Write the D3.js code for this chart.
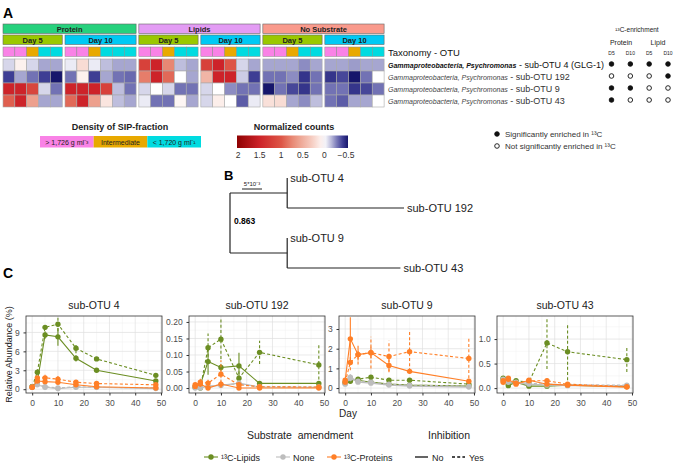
<!DOCTYPE html>
<html>
<head>
<meta charset="utf-8">
<script src="https://cdn.jsdelivr.net/npm/d3@7/dist/d3.min.js"></script>
<style>
  body { margin: 0; background: #fff; }
  text { font-family: "Liberation Sans", Arial, sans-serif; }
</style>
</head>
<body>
<svg id="chart"></svg>
<script>
// ---------------- panel A data ----------------
const otus = ['sub-OTU 4', 'sub-OTU 192', 'sub-OTU 9', 'sub-OTU 43'];
const blockSubstrate = ['Protein', 'Protein', 'Lipids', 'Lipids', 'No Substrate', 'No Substrate'];
const blockDay = ['Day 5', 'Day 10', 'Day 5', 'Day 10', 'Day 5', 'Day 10'];
const blockFractions = [
  ['heavy', 'heavy', 'mid', 'light', 'light'],
  ['heavy', 'heavy', 'mid', 'light', 'light', 'light'],
  ['heavy', 'heavy', 'mid', 'light', 'light'],
  ['heavy', 'heavy', 'mid', 'light', 'light'],
  ['heavy', 'heavy', 'mid', 'light', 'light'],
  ['heavy', 'heavy', 'mid', 'light', 'light']
];
// rows follow otus
const countsProteinD5 = [
  [-0.1, 0.08, -0.1, -0.2, -0.2],
  [-0.42, -0.2, -0.3, -0.42, -0.55],
  [1.5, 1.5, 1.15, -0.1, -0.3],
  [0.95, 1.5, 0.6, -0.2, -0.2]
];
const countsProteinD10 = [
  [-0.05, 0.2, -0.05, -0.15, -0.2, -0.2],
  [-0.3, 0.08, -0.42, -0.2, -0.3, -0.32],
  [1.5, 1.5, 1.5, 1.2, -0.15, -0.3],
  [0.9, 1.5, 0.6, 0.15, -0.15, -0.2]
];
const countsLipidsD5 = [
  [1.2, 1.5, 0.75, -0.15, -0.2],
  [0.8, 1.5, 0.9, 0.0, -0.2],
  [-0.1, 0.0, -0.1, -0.3, -0.3],
  [-0.05, -0.3, -0.3, 0.05, -0.2]
];
const countsLipidsD10 = [
  [1.2, 1.5, 1.0, -0.1, -0.2],
  [0.45, 1.5, 1.5, -0.12, -0.42],
  [-0.1, 0.0, -0.25, -0.3, -0.3],
  [-0.1, 0.1, 0.0, -0.35, -0.05]
];
const countsNoneD5 = [
  [-0.2, -0.2, -0.2, -0.25, -0.2],
  [-0.3, -0.3, -0.25, -0.45, -0.3],
  [-0.58, -0.3, -0.4, -0.45, -0.3],
  [0.18, 0.2, -0.2, -0.25, -0.15]
];
const countsNoneD10 = [
  [-0.2, -0.2, -0.22, -0.2, -0.2],
  [-0.45, -0.4, -0.55, -0.3, 0.0],
  [-0.3, -0.3, -0.45, -0.4, -0.3],
  [-0.3, -0.35, -0.2, -0.2, 0.0]
];
const blockCounts = [countsProteinD5, countsProteinD10, countsLipidsD5, countsLipidsD10, countsNoneD5, countsNoneD10];

const taxonomy = 'Gammaproteobacteria, Psychromonas';
const otuSuffix = [' - sub-OTU 4 (GLG-1)', ' - sub-OTU 192', ' - sub-OTU 9', ' - sub-OTU 43'];
const enrichProteinD5 = [1, 0, 1, 1];
const enrichProteinD10 = [1, 0, 1, 0];
const enrichLipidD5 = [1, 0, 0, 0];
const enrichLipidD10 = [1, 1, 0, 0];
const enrichCols = ['D5', 'D10', 'D5', 'D10'];
const densityLabels = ['> 1,726 g ml⁻³', 'Intermediate', '< 1,720 g ml⁻¹'];
const countTicks = [2, 1.5, 1, 0.5, 0, -0.5];

// ---------------- panel B data ----------------
const treeLeaves = ['sub-OTU 4', 'sub-OTU 192', 'sub-OTU 9', 'sub-OTU 43'];
const cladeStem = [0.0143, 0.0143];
const leafBranch = [0, 0.0292, 0, 0.0283];
const bootstrapValue = '0.863';
const scaleBarLength = 0.005;

// ---------------- panel C data ----------------
const sampleDays = [0, 2, 5, 10, 17, 25, 48];
const substrates = ['¹³C-Lipids', 'None', '¹³C-Proteins'];
const inhibition = ['No', 'Yes'];

const otu4LipNo = [0.4, 1.2, 8.6, 8.3, 4.9, 3.0, 1.3];
const otu4LipNoSd = [0.1, 0.3, 0.6, 1.4, 0.5, 0.2, 0.2];
const otu4LipYes = [0.4, 2.7, 9.8, 10.3, 6.5, 4.8, 2.2];
const otu4LipYesSd = [0.1, 0.4, 0.4, 1.1, 0.8, 0.3, 0.3];
const otu4NoneNo = [0.3, 0.7, 0.3, 0.1, 0.3, 0.3, 0.1];
const otu4NoneNoSd = [0.1, 0.1, 0.1, 0.05, 0.1, 0.1, 0.05];
const otu4NoneYes = [0.3, 0.8, 0.4, 0.2, 0.4, 0.3, 0.2];
const otu4NoneYesSd = [0.1, 0.1, 0.1, 0.05, 0.1, 0.1, 0.05];
const otu4ProtNo = [0.3, 1.3, 1.2, 1.1, 0.7, 0.4, 0.2];
const otu4ProtNoSd = [0.1, 0.3, 0.3, 0.3, 0.2, 0.1, 0.1];
const otu4ProtYes = [0.3, 1.8, 1.8, 1.6, 1.1, 0.9, 0.7];
const otu4ProtYesSd = [0.1, 0.4, 0.5, 0.5, 0.4, 0.3, 0.3];

const otu192LipNo = [0.002, 0.01, 0.08, 0.062, 0.067, 0.014, 0.014];
const otu192LipNoSd = [0.003, 0.005, 0.04, 0.01, 0.04, 0.003, 0.003];
const otu192LipYes = [0.005, 0.0, 0.122, 0.148, 0.03, 0.108, 0.07];
const otu192LipYesSd = [0.005, 0.005, 0.043, 0.06, 0.02, 0.035, 0.06];
const otu192NoneNo = [0.0, 0.0, 0.005, 0.008, 0.015, 0.003, 0.002];
const otu192NoneNoSd = [0.002, 0.002, 0.003, 0.004, 0.005, 0.002, 0.002];
const otu192NoneYes = [0.005, 0.003, 0.005, 0.01, 0.012, 0.004, 0.003];
const otu192NoneYesSd = [0.002, 0.002, 0.003, 0.004, 0.005, 0.002, 0.002];
const otu192ProtNo = [0.005, 0.012, 0.0, 0.012, 0.0, 0.0, 0.0];
const otu192ProtNoSd = [0.005, 0.008, 0.002, 0.008, 0.002, 0.001, 0.001];
const otu192ProtYes = [0.01, 0.018, 0.015, 0.042, 0.01, 0.004, 0.003];
const otu192ProtYesSd = [0.005, 0.01, 0.01, 0.042, 0.008, 0.003, 0.002];

const otu9LipNo = [0.25, 0.45, 0.4, 0.3, 0.2, 0.15, 0.1];
const otu9LipNoSd = [0.05, 0.1, 0.08, 0.06, 0.05, 0.05, 0.04];
const otu9LipYes = [0.3, 0.35, 0.45, 0.55, 0.4, 0.4, 0.2];
const otu9LipYesSd = [0.05, 0.08, 0.08, 0.1, 0.08, 0.08, 0.06];
const otu9NoneNo = [0.2, 0.5, 0.3, 0.25, 0.15, 0.1, 0.05];
const otu9NoneNoSd = [0.05, 0.15, 0.05, 0.05, 0.05, 0.04, 0.03];
const otu9NoneYes = [0.25, 0.55, 0.35, 0.3, 0.2, 0.15, 0.1];
const otu9NoneYesSd = [0.05, 0.15, 0.05, 0.05, 0.05, 0.04, 0.03];
const otu9ProtNo = [0.4, 2.5, 1.7, 1.8, 1.15, 0.85, 0.35];
const otu9ProtNoSd = [0.1, 1.1, 0.3, 0.3, 0.3, 0.1, 0.1];
const otu9ProtYes = [0.3, 1.3, 1.7, 1.8, 1.6, 1.85, 1.5];
const otu9ProtYesSd = [0.1, 0.4, 0.5, 0.8, 0.8, 1.0, 1.0];

const otu43LipNo = [0.18, 0.05, 0.12, 0.04, 0.04, 0.06, 0.03];
const otu43LipNoSd = [0.03, 0.02, 0.03, 0.02, 0.02, 0.02, 0.01];
const otu43LipYes = [0.2, 0.08, 0.15, 0.12, 0.92, 0.74, 0.58];
const otu43LipYesSd = [0.03, 0.02, 0.03, 0.05, 0.53, 0.58, 0.25];
const otu43NoneNo = [0.15, 0.12, 0.1, 0.08, 0.06, 0.05, 0.05];
const otu43NoneNoSd = [0.03, 0.02, 0.02, 0.02, 0.02, 0.01, 0.01];
const otu43NoneYes = [0.18, 0.14, 0.12, 0.1, 0.08, 0.07, 0.06];
const otu43NoneYesSd = [0.03, 0.02, 0.02, 0.02, 0.02, 0.01, 0.01];
const otu43ProtNo = [0.12, 0.18, 0.08, 0.16, 0.08, 0.06, 0.02];
const otu43ProtNoSd = [0.03, 0.04, 0.02, 0.03, 0.02, 0.02, 0.01];
const otu43ProtYes = [0.15, 0.2, 0.1, 0.15, 0.15, 0.08, 0.03];
const otu43ProtYesSd = [0.03, 0.04, 0.02, 0.03, 0.03, 0.02, 0.01];

const facetTitles = ['sub-OTU 4', 'sub-OTU 192', 'sub-OTU 9', 'sub-OTU 43'];
const yDomains = [[-0.6, 11.6], [-0.015, 0.218], [-0.25, 3.66], [-0.1, 1.47]];
const yTicks = [[0, 3, 6, 9], [0, 0.05, 0.1, 0.15, 0.2], [0, 1, 2, 3], [0, 0.5, 1]];
const yMinor = [[1.5, 4.5, 7.5, 10.5], [0.025, 0.075, 0.125, 0.175], [0.5, 1.5, 2.5, 3.5], [0.25, 0.75, 1.25]];
const yFormats = ['d', '.2f', 'd', '.1f'];
const xTicks = [0, 10, 20, 30, 40, 50];
const xMinor = [5, 15, 25, 35, 45];

// ---------------- styles ----------------
const subColor = {Protein: '#27d17d', Lipids: '#e39cf4', 'No Substrate': '#f99a8c'};
const dayColor = {'Day 5': '#9ac800', 'Day 10': '#00c9f4'};
const fracColor = {heavy: '#f982e6', mid: '#e8a900', light: '#00dbe0'};
const lineColor = ['#6b8e23', '#bdbdbd', '#ff7f27'];
const dash = {No: null, Yes: '3,2.2'};

const svg = d3.select('#chart').attr('width', 674).attr('height', 463);

// =============== A ===============
svg.append('text').text('A').attr('x', 3).attr('y', 18)
  .attr('font-size', 14).attr('font-weight', 'bold');

const countColor = d3.scaleLinear()
  .domain([-0.55, -0.42, -0.3, -0.2, -0.1, 0, 0.3, 0.7, 1.0, 1.5, 2.05])
  .range(['#16166b', '#3e3e94', '#7272b4', '#a6a6d0', '#d6d6ea', '#ffffff', '#f5cbbf', '#ea917c', '#dd5546', '#cd2329', '#8b0000'])
  .clamp(true);

const colW = 11.85, blockGap = 2.75;
const rowY = d3.scaleBand().domain(otus).range([59, 107]);
let cursor = 3;
const blocks = blockSubstrate.map((s, i) => {
  const n = blockFractions[i].length;
  const b = {substrate: s, day: blockDay[i], fractions: blockFractions[i], counts: blockCounts[i], x0: cursor, x1: cursor + n * colW};
  b.x = d3.scaleBand().domain(d3.range(n)).range([b.x0, b.x1]);
  cursor = b.x1 + blockGap;
  return b;
});

const groups = d3.groups(blocks, b => b.substrate).map(([s, bs]) => ({s, x0: bs[0].x0, x1: bs[bs.length - 1].x1}));
const gA = svg.append('g');
gA.selectAll('rect.grp').data(groups).enter().append('rect')
  .attr('x', d => d.x0).attr('y', 24).attr('width', d => d.x1 - d.x0).attr('height', 9.5)
  .attr('fill', d => subColor[d.s]).attr('stroke', '#666').attr('stroke-width', 0.6);
gA.selectAll('text.grp').data(groups).enter().append('text')
  .attr('x', d => (d.x0 + d.x1) / 2).attr('y', 31.8).attr('text-anchor', 'middle')
  .attr('font-family', 'DejaVu Sans').attr('font-weight', 'bold').attr('font-size', 7.5).attr('fill', '#222')
  .text(d => d.s);

gA.selectAll('rect.day').data(blocks).enter().append('rect')
  .attr('x', d => d.x0).attr('y', 35).attr('width', d => d.x1 - d.x0).attr('height', 9.5)
  .attr('fill', d => dayColor[d.day]).attr('stroke', '#666').attr('stroke-width', 0.6);
gA.selectAll('text.day').data(blocks).enter().append('text')
  .attr('x', d => (d.x0 + d.x1) / 2).attr('y', 42.8).attr('text-anchor', 'middle')
  .attr('font-family', 'DejaVu Sans').attr('font-weight', 'bold').attr('font-size', 7.5).attr('fill', '#222')
  .text(d => d.day);

blocks.forEach(b => {
  const g = gA.append('g');
  g.selectAll('rect.frac').data(b.fractions).enter().append('rect')
    .attr('x', (d, i) => b.x(i)).attr('y', 47).attr('width', b.x.bandwidth()).attr('height', 9.5)
    .attr('fill', d => fracColor[d]).attr('stroke', '#8a8a8a').attr('stroke-width', 0.5);
  const cells = [];
  b.counts.forEach((row, r) => row.forEach((v, c) => cells.push({otu: otus[r], c, v})));
  g.selectAll('rect.cell').data(cells).enter().append('rect')
    .attr('x', d => b.x(d.c)).attr('y', d => rowY(d.otu))
    .attr('width', b.x.bandwidth()).attr('height', rowY.bandwidth())
    .attr('fill', d => countColor(d.v)).attr('stroke', '#a8a8a8').attr('stroke-width', 0.6);
});

// taxonomy labels
gA.append('text').text('Taxonomy - OTU').attr('x', 388).attr('y', 55.5).attr('font-size', 9.5).attr('fill', '#111');
otus.forEach((o, i) => {
  const t = gA.append('text').attr('x', 388).attr('y', rowY(o) + rowY.bandwidth() / 2 + 2.5);
  t.append('tspan').text(taxonomy).attr('font-style', 'italic').attr('font-size', 7)
    .attr('font-weight', i === 0 ? 'bold' : 'normal').attr('fill', i === 0 ? '#111' : '#444');
  t.append('tspan').text(otuSuffix[i]).attr('font-size', 9).attr('fill', i === 0 ? '#111' : '#333');
});

// enrichment table
const enrichX = d3.scalePoint().domain(d3.range(4)).range([611.5, 668]);
const enrichData = [enrichProteinD5, enrichProteinD10, enrichLipidD5, enrichLipidD10];
gA.append('text').text('¹³C-enrichment').attr('x', 637).attr('y', 32).attr('text-anchor', 'middle')
  .attr('font-family', 'Open Sans').attr('font-size', 6.5).attr('fill', '#222');
gA.append('text').text('Protein').attr('x', 621).attr('y', 45).attr('text-anchor', 'middle')
  .attr('font-family', 'Open Sans').attr('font-size', 7).attr('fill', '#222');
gA.append('text').text('Lipid').attr('x', 658).attr('y', 45).attr('text-anchor', 'middle')
  .attr('font-family', 'Open Sans').attr('font-size', 7).attr('fill', '#222');
gA.selectAll('text.ecol').data(enrichCols).enter().append('text')
  .attr('x', (d, i) => enrichX(i)).attr('y', 54.5).attr('text-anchor', 'middle')
  .attr('font-family', 'DejaVu Sans').attr('font-size', 5).attr('fill', '#222').text(d => d);
enrichData.forEach((col, ci) => {
  gA.selectAll(null).data(col).enter().append('circle')
    .attr('cx', enrichX(ci)).attr('cy', (d, r) => rowY(otus[r]) + rowY.bandwidth() / 2 - 1)
    .attr('r', 2.3).attr('fill', d => d ? '#111' : '#fff').attr('stroke', '#111').attr('stroke-width', 0.9);
});

// density legend
const densKeys = ['heavy', 'mid', 'light'];
const densX = d3.scaleBand().domain(densKeys).range([40, 201]);
gA.append('text').text('Density of SIP-fraction').attr('x', 120).attr('y', 130).attr('text-anchor', 'middle')
  .attr('font-weight', 'bold').attr('font-size', 9).attr('fill', '#222');
gA.selectAll('rect.dens').data(densKeys).enter().append('rect')
  .attr('x', d => densX(d)).attr('y', 136).attr('width', densX.bandwidth()).attr('height', 11.5)
  .attr('fill', d => fracColor[d]);
gA.selectAll('text.dens').data(densKeys).enter().append('text')
  .attr('x', d => densX(d) + densX.bandwidth() / 2).attr('y', 144.5).attr('text-anchor', 'middle')
  .attr('font-family', 'Liberation Sans Narrow').attr('font-size', 7).attr('fill', '#222')
  .text((d, i) => densityLabels[i]);

// normalized counts legend
const legX = d3.scaleLinear().domain([2, -0.5]).range([238, 346]);
const grad = svg.append('defs').append('linearGradient').attr('id', 'cgrad');
d3.range(0, 1.0001, 0.05).forEach(t => {
  const v = legX.invert(237 + t * 111);
  grad.append('stop').attr('offset', t).attr('stop-color', countColor(v));
});
gA.append('text').text('Normalized counts').attr('x', 294).attr('y', 130).attr('text-anchor', 'middle')
  .attr('font-weight', 'bold').attr('font-size', 9).attr('fill', '#222');
gA.append('rect').attr('x', 237).attr('y', 135.5).attr('width', 111).attr('height', 12.5).attr('fill', 'url(#cgrad)');
gA.selectAll('text.ct').data(countTicks).enter().append('text')
  .attr('x', d => legX(d)).attr('y', 157.5).attr('text-anchor', 'middle')
  .attr('font-family', 'Liberation Sans Narrow').attr('font-size', 8.5).attr('fill', '#333')
  .text(d => d3.format('')(d).replace('-', '−'));

// significance legend
const sigLabels = ['Significantly enriched in ¹³C', 'Not significantly enriched in ¹³C'];
gA.selectAll('circle.sig').data([1, 0]).enter().append('circle')
  .attr('cx', 497).attr('cy', (d, i) => 134 + i * 12).attr('r', 2.3)
  .attr('fill', d => d ? '#111' : '#fff').attr('stroke', '#111').attr('stroke-width', 0.9);
gA.selectAll('text.sig').data(sigLabels).enter().append('text')
  .attr('x', 505).attr('y', (d, i) => 137 + i * 12)
  .attr('font-family', 'Liberation Sans Narrow').attr('font-size', 8).attr('fill', '#333').text(d => d);

// =============== B ===============
const gB = svg.append('g');
gB.append('text').text('B').attr('x', 224).attr('y', 180).attr('font-size', 13).attr('font-weight', 'bold');
const treeX = d3.scaleLinear().domain([0, 0.005]).range([230, 250]);
const leafY = d3.scalePoint().domain(treeLeaves).range([178, 268]);
const treeLines = [];
const rootTop = [];
[[0, 1], [2, 3]].forEach((pair, k) => {
  const cx = treeX(cladeStem[k]);
  const ya = leafY(treeLeaves[pair[0]]), yb = leafY(treeLeaves[pair[1]]);
  const ym = (ya + yb) / 2;
  treeLines.push([treeX(0), ym, cx, ym]);
  treeLines.push([cx, ya, cx, yb]);
  pair.forEach(li => {
    const y = leafY(treeLeaves[li]);
    if (leafBranch[li] > 0) treeLines.push([cx, y, treeX(cladeStem[k] + leafBranch[li]), y]);
  });
  rootTop.push(ym);
});
treeLines.push([treeX(0), rootTop[0], treeX(0), rootTop[1]]);
gB.selectAll('line').data(treeLines).enter().append('line')
  .attr('x1', d => d[0]).attr('y1', d => d[1]).attr('x2', d => d[2]).attr('y2', d => d[3])
  .attr('stroke', '#222').attr('stroke-width', 1.2);
gB.selectAll('text.leaf').data(treeLeaves).enter().append('text')
  .attr('x', (d, i) => treeX(cladeStem[i < 2 ? 0 : 1] + leafBranch[i]) + 3)
  .attr('y', d => leafY(d) + 4).attr('font-family', 'Open Sans').attr('font-size', 11).attr('fill', '#222')
  .text(d => d);
gB.append('text').text(bootstrapValue).attr('x', 234).attr('y', 224).attr('font-weight', 'bold').attr('font-size', 8.5);
gB.append('line').attr('x1', 242).attr('x2', 242 + treeX(scaleBarLength) - treeX(0))
  .attr('y1', 189).attr('y2', 189).attr('stroke', '#222').attr('stroke-width', 1);
gB.append('text').text('5*10⁻³').attr('x', 252).attr('y', 186).attr('text-anchor', 'middle')
  .attr('font-size', 6).attr('fill', '#222');

// =============== C ===============
svg.append('text').text('C').attr('x', 3).attr('y', 278).attr('font-size', 14).attr('font-weight', 'bold');

const seriesOf = [
  [otu4LipNo, otu4LipNoSd, otu4LipYes, otu4LipYesSd, otu4NoneNo, otu4NoneNoSd, otu4NoneYes, otu4NoneYesSd, otu4ProtNo, otu4ProtNoSd, otu4ProtYes, otu4ProtYesSd],
  [otu192LipNo, otu192LipNoSd, otu192LipYes, otu192LipYesSd, otu192NoneNo, otu192NoneNoSd, otu192NoneYes, otu192NoneYesSd, otu192ProtNo, otu192ProtNoSd, otu192ProtYes, otu192ProtYesSd],
  [otu9LipNo, otu9LipNoSd, otu9LipYes, otu9LipYesSd, otu9NoneNo, otu9NoneNoSd, otu9NoneYes, otu9NoneYesSd, otu9ProtNo, otu9ProtNoSd, otu9ProtYes, otu9ProtYesSd],
  [otu43LipNo, otu43LipNoSd, otu43LipYes, otu43LipYesSd, otu43NoneNo, otu43NoneNoSd, otu43NoneYes, otu43NoneYesSd, otu43ProtNo, otu43ProtNoSd, otu43ProtYes, otu43ProtYesSd]
];

const facetLeft = [26, 189, 339, 497];
const facetW = 136, pTop = 316, pBot = 393;
const gC = svg.append('g');
const defs = svg.select('defs');

facetTitles.forEach((title, fi) => {
  const x = d3.scaleLinear().domain([-2.4, 50.4]).range([facetLeft[fi], facetLeft[fi] + facetW]);
  const y = d3.scaleLinear().domain(yDomains[fi]).range([pBot, pTop]);
  const g = gC.append('g');
  defs.append('clipPath').attr('id', 'clip' + fi).append('rect')
    .attr('x', facetLeft[fi]).attr('y', pTop).attr('width', facetW).attr('height', pBot - pTop);

  // grid
  g.selectAll('line.xmin').data(xMinor).enter().append('line')
    .attr('x1', d => x(d)).attr('x2', d => x(d)).attr('y1', pTop).attr('y2', pBot)
    .attr('stroke', '#f0f0f0').attr('stroke-width', 0.5);
  g.selectAll('line.ymin').data(yMinor[fi].filter(v => y(v) > pTop)).enter().append('line')
    .attr('x1', x.range()[0]).attr('x2', x.range()[1]).attr('y1', d => y(d)).attr('y2', d => y(d))
    .attr('stroke', '#f0f0f0').attr('stroke-width', 0.5);
  g.selectAll('line.xmaj').data(xTicks).enter().append('line')
    .attr('x1', d => x(d)).attr('x2', d => x(d)).attr('y1', pTop).attr('y2', pBot)
    .attr('stroke', '#e0e0e0').attr('stroke-width', 0.7);
  g.selectAll('line.ymaj').data(yTicks[fi]).enter().append('line')
    .attr('x1', x.range()[0]).attr('x2', x.range()[1]).attr('y1', d => y(d)).attr('y2', d => y(d))
    .attr('stroke', '#e0e0e0').attr('stroke-width', 0.7);

  // axes
  const ax = g.append('g').attr('transform', `translate(0,${pBot})`)
    .call(d3.axisBottom(x).tickValues(xTicks).tickSize(2.5).tickFormat(d3.format('d')));
  const ay = g.append('g').attr('transform', `translate(${facetLeft[fi]},0)`)
    .call(d3.axisLeft(y).tickValues(yTicks[fi]).tickSize(2.5).tickFormat(d3.format(yFormats[fi])));
  [ax, ay].forEach(a => {
    a.select('.domain').remove();
    a.selectAll('line').attr('stroke', '#333');
    a.selectAll('text').attr('fill', '#4d4d4d').attr('font-size', 8.5)
      .attr('font-family', '"Liberation Sans", Arial, sans-serif');
  });
  ax.selectAll('text').attr('dy', '0.9em');
  ay.selectAll('text').attr('dx', '-0.1em');

  // series
  const plot = g.append('g').attr('clip-path', `url(#clip${fi})`);
  const arr = seriesOf[fi];
  const line = d3.line().x((d, i) => x(sampleDays[i])).y(d => y(d));
  for (let s = 0; s < 3; s++) {
    for (let k = 0; k < 2; k++) {
      const mean = arr[s * 4 + k * 2], sd = arr[s * 4 + k * 2 + 1];
      const col = lineColor[s], da = dash[inhibition[k]];
      plot.append('path').attr('d', line(mean)).attr('fill', 'none')
        .attr('stroke', col).attr('stroke-width', 1.1).attr('stroke-dasharray', da);
      plot.selectAll(null).data(mean).enter().append('line')
        .attr('x1', (d, i) => x(sampleDays[i])).attr('x2', (d, i) => x(sampleDays[i]))
        .attr('y1', (d, i) => y(d - sd[i])).attr('y2', (d, i) => y(d + sd[i]))
        .attr('stroke', col).attr('stroke-width', 1.1).attr('stroke-dasharray', da);
      plot.selectAll(null).data(mean).enter().append('circle')
        .attr('cx', (d, i) => x(sampleDays[i])).attr('cy', d => y(d)).attr('r', 2.7).attr('fill', col);
    }
  }

  g.append('rect').attr('x', facetLeft[fi]).attr('y', pTop).attr('width', facetW).attr('height', pBot - pTop)
    .attr('fill', 'none').attr('stroke', '#333').attr('stroke-width', 0.8);
  g.append('text').text(title).attr('x', facetLeft[fi] + facetW / 2).attr('y', 309).attr('text-anchor', 'middle')
    .attr('font-family', 'Open Sans').attr('font-size', 10.5).attr('fill', '#1a1a1a');
});

svg.append('text').text('Relative Abundance (%)')
  .attr('transform', `translate(12,${(pTop + pBot) / 2}) rotate(-90)`).attr('text-anchor', 'middle')
  .attr('font-size', 9).attr('fill', '#222');
svg.append('text').text('Day').attr('x', 348).attr('y', 417).attr('text-anchor', 'middle')
  .attr('font-size', 10).attr('fill', '#222');

// legend
const gL = svg.append('g');
gL.append('text').text('Substrate  amendment').attr('x', 300).attr('y', 439).attr('text-anchor', 'middle')
  .attr('font-size', 10.5).attr('fill', '#222').style('white-space', 'pre');
gL.append('text').text('Inhibition').attr('x', 449).attr('y', 439).attr('text-anchor', 'middle')
  .attr('font-size', 10.5).attr('fill', '#222');
const subKeyX = [204, 276, 327];
substrates.forEach((s, i) => {
  gL.append('line').attr('x1', subKeyX[i]).attr('x2', subKeyX[i] + 14).attr('y1', 457).attr('y2', 457)
    .attr('stroke', lineColor[i]).attr('stroke-width', 1.1);
  gL.append('circle').attr('cx', subKeyX[i] + 7).attr('cy', 457).attr('r', 2.7).attr('fill', lineColor[i]);
  gL.append('text').text(s).attr('x', subKeyX[i] + 17).attr('y', 460.5)
    .attr('font-family', 'Liberation Sans Narrow').attr('font-size', 9).attr('fill', '#222');
});
const inhKeyX = [415, 452];
inhibition.forEach((s, i) => {
  gL.append('line').attr('x1', inhKeyX[i]).attr('x2', inhKeyX[i] + 13).attr('y1', 457).attr('y2', 457)
    .attr('stroke', '#111').attr('stroke-width', 1.3).attr('stroke-dasharray', dash[s]);
  gL.append('text').text(s).attr('x', inhKeyX[i] + 17).attr('y', 460.5)
    .attr('font-family', 'Liberation Sans Narrow').attr('font-size', 9).attr('fill', '#222');
});
</script>
</body>
</html>
